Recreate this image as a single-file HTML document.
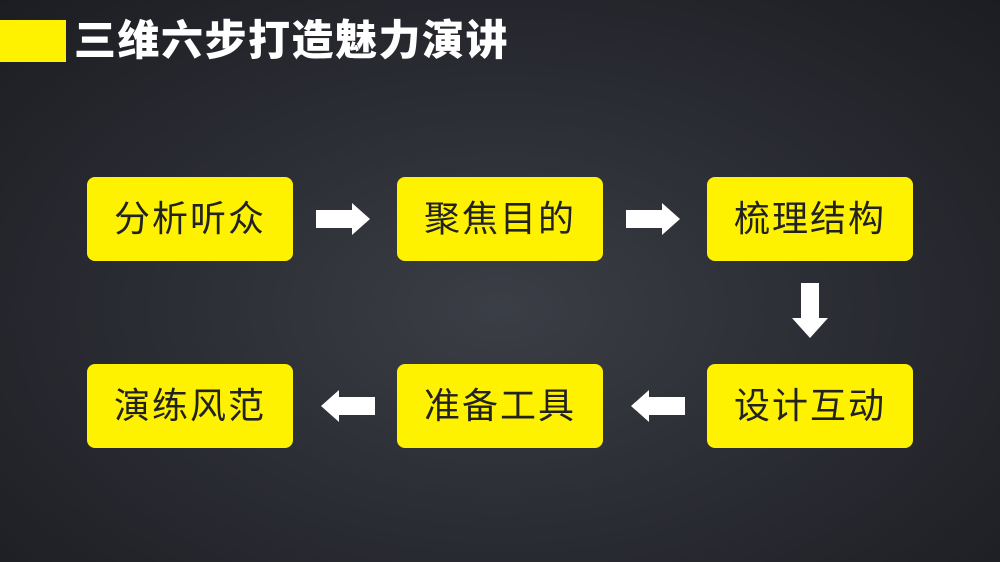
<!DOCTYPE html>
<html><head><meta charset="utf-8"><style>
body{margin:0}
#c{position:relative;width:1000px;height:562px;overflow:hidden;background:radial-gradient(ellipse at 50% 55%,#3b3e46 0%,#2c2e35 45%,#1c1d22 100%);font-family:"Liberation Sans","Noto Sans CJK SC",sans-serif}
.bar{position:absolute;left:0;top:20px;width:66px;height:42px;background:#fff200}
.t{position:absolute;left:74px;top:15px;font-size:42px;font-weight:900;color:#fff;letter-spacing:1.5px;line-height:52px}
.b{position:absolute;width:206px;height:84px;background:#fff200;border-radius:8px;color:#222;font-size:36px;line-height:84px;text-align:center;letter-spacing:2px}
svg{position:absolute;left:0;top:0}
</style></head><body><div id="c">
<div class="bar"></div><div class="t">三维六步打造魅力演讲</div>
<div class="b" style="left:87px;top:177px">分析听众</div>
<div class="b" style="left:397px;top:177px">聚焦目的</div>
<div class="b" style="left:707px;top:177px">梳理结构</div>
<div class="b" style="left:87px;top:364px">演练风范</div>
<div class="b" style="left:397px;top:364px">准备工具</div>
<div class="b" style="left:707px;top:364px">设计互动</div>
<svg width="1000" height="562" fill="#fff">
<polygon points="316,210 352,210 352,203 370,219 352,235 352,228 316,228"/>
<polygon points="626,210 662,210 662,203 680,219 662,235 662,228 626,228"/>
<polygon points="801,283 819,283 819,318 828,318 810,338 792,318 801,318"/>
<polygon points="375,397 339,397 339,390 321,406 339,422 339,415 375,415"/>
<polygon points="685,397 649,397 649,390 631,406 649,422 649,415 685,415"/>
</svg>
</div></body></html>
